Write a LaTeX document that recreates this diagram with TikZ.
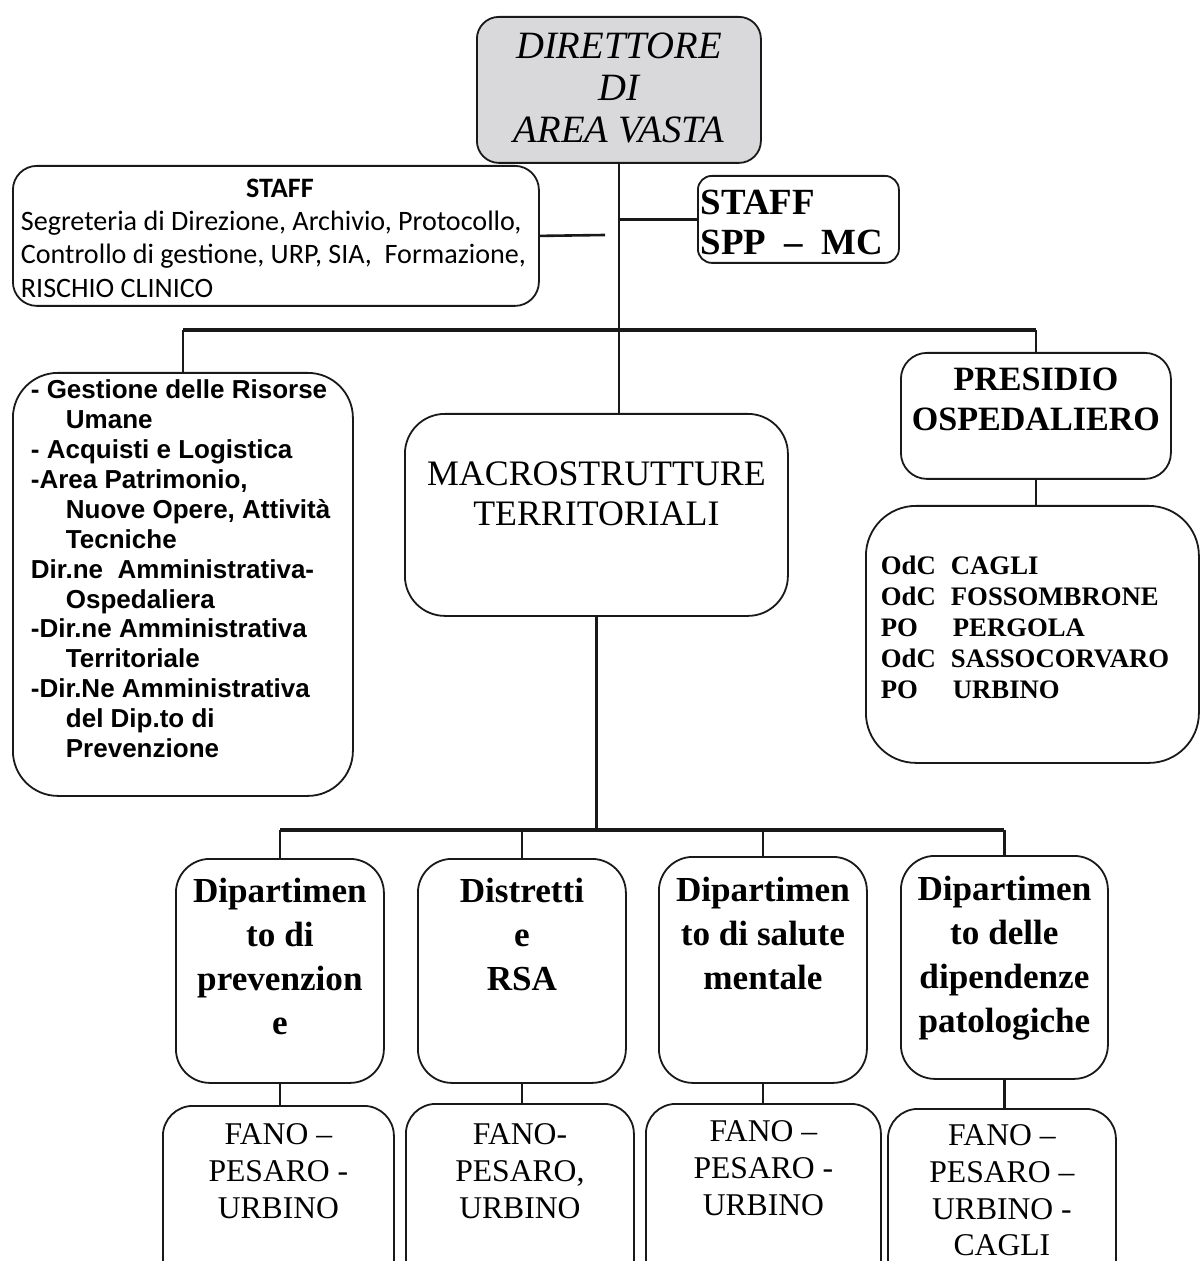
\documentclass[tikz,border=0pt]{standalone}
\usepackage{fontspec}
\setmainfont{Liberation Serif}
\newfontfamily\calibrifont{Carlito}
\newfontfamily\arialfont{Liberation Sans}

\newlength{\du}
\setlength{\du}{0.1mm}
\newcommand{\firstbase}[1]{\rule{0pt}{#1}}

\definecolor{boxlinecolor}{rgb}{0.10, 0.10, 0.10}
\definecolor{headfillcolor}{rgb}{0.85, 0.85, 0.86}

\tikzset{
  orgbox/.style={draw=boxlinecolor, line width=1.8\du, anchor=north west, inner sep=0pt, fill=white},
  thinline/.style={draw=boxlinecolor, line width=2.6\du},
  barline/.style={draw=boxlinecolor, line width=4.6\du},
}

\begin{document}
\begin{tikzpicture}
\pgftransformxscale{1.000000}
\pgftransformyscale{-1.000000}
\useasboundingbox (0\du,0\du) rectangle (1200\du,1261\du);
\fill[white] (0\du,0\du) rectangle (1200\du,1261\du);
\clip (0\du,0\du) rectangle (1200\du,1261\du);

% top level
\node[orgbox, fill=headfillcolor, rounded corners=22\du] (dir) at (476\du,16\du)
  {\parbox[t][146\du][t]{284\du}{\centering\itshape\fontsize{11}{11.95}\selectfont
  \firstbase{42\du}DIRETTORE\\DI\\AREA VASTA}};
\node[orgbox, rounded corners=24\du] (staffl) at (12\du,165\du)
  {\parbox[t][140\du][t]{526\du}{\calibrifont\fontsize{8}{9.4}\selectfont\raggedright\leftskip=8\du
  \firstbase{32\du}\hfill\textbf{STAFF}\hfill\null\\
  Segreteria di Direzione, Archivio, Protocollo,\\
  Controllo di gestione, URP, SIA,\ \ Formazione,\\
  RISCHIO CLINICO}};
\node[orgbox, rounded corners=14\du] (staffr) at (697\du,175\du)
  {\parbox[t][87\du][t]{201\du}{\bfseries\fontsize{10.5}{11.4}\selectfont\raggedright\leftskip=3\du
  \firstbase{39\du}STAFF\\SPP\ \ --\ \ MC}};

% second level
\node[orgbox, rounded corners=45\du] (admin) at (12\du,372\du)
  {\parbox[t][423\du][t]{340\du}{\arialfont\bfseries\fontsize{7.4}{8.5}\selectfont\raggedright\leftskip=18\du
  \firstbase{26\du}- Gestione delle Risorse\\
  \hspace*{35\du}Umane\\
  - Acquisti e Logistica\\
  -Area Patrimonio,\\
  \hspace*{35\du}Nuove Opere, Attività\\
  \hspace*{35\du}Tecniche\\
  Dir.ne\ \ Amministrativa-\\
  \hspace*{35\du}Ospedaliera\\
  -Dir.ne Amministrativa\\
  \hspace*{35\du}Territoriale\\
  -Dir.Ne Amministrativa\\
  \hspace*{35\du}del Dip.to di\\
  \hspace*{35\du}Prevenzione}};
\node[orgbox, rounded corners=40\du] (macro) at (404\du,413\du)
  {\parbox[t][202\du][t]{383\du}{\centering\fontsize{10.2}{11.4}\selectfont
  \firstbase{72\du}MACROSTRUTTURE\\TERRITORIALI}};
\node[orgbox, rounded corners=26\du] (presidio) at (900\du,352\du)
  {\parbox[t][126\du][t]{270\du}{\centering\bfseries\fontsize{9.7}{11.4}\selectfont
  \firstbase{38\du}PRESIDIO\\OSPEDALIERO}};
\node[orgbox, rounded corners=50\du] (odc) at (865\du,505\du)
  {\parbox[t][257\du][t]{333\du}{\bfseries\fontsize{7.6}{8.8}\selectfont\raggedright\leftskip=15\du
  \firstbase{69\du}\makebox[70\du][l]{OdC}CAGLI\\
  \makebox[70\du][l]{OdC}FOSSOMBRONE\\
  \makebox[72\du][l]{PO}PERGOLA\\
  \makebox[70\du][l]{OdC}SASSOCORVARO\\
  \makebox[72\du][l]{PO}URBINO}};

% departments
\node[orgbox, rounded corners=34\du] (dep1) at (175\du,858\du)
  {\parbox[t][224\du][t]{208\du}{\centering\bfseries\fontsize{10}{12.5}\selectfont
  \firstbase{44\du}Dipartimen\\to di\\prevenzion\\e}};
\node[orgbox, rounded corners=34\du] (dep2) at (417\du,858\du)
  {\parbox[t][224\du][t]{208\du}{\centering\bfseries\fontsize{10}{12.5}\selectfont
  \firstbase{44\du}Distretti\\e\\RSA}};
\node[orgbox, rounded corners=34\du] (dep3) at (658\du,856\du)
  {\parbox[t][226\du][t]{208\du}{\centering\bfseries\fontsize{10}{12.5}\selectfont
  \firstbase{45\du}Dipartimen\\to di salute\\mentale}};
\node[orgbox, rounded corners=34\du] (dep4) at (900\du,855\du)
  {\parbox[t][223\du][t]{207\du}{\centering\bfseries\fontsize{10}{12.5}\selectfont
  \firstbase{45\du}Dipartimen\\to delle\\dipendenze\\patologiche}};

% sites
\node[orgbox, rounded corners=30\du] (fano1) at (162\du,1105\du)
  {\parbox[t][190\du][t]{231\du}{\centering\fontsize{9}{10.5}\selectfont
  \firstbase{39\du}FANO --\\PESARO -\\URBINO}};
\node[orgbox, rounded corners=30\du] (fano2) at (405\du,1103\du)
  {\parbox[t][190\du][t]{228\du}{\centering\fontsize{9}{10.5}\selectfont
  \firstbase{41\du}FANO-\\PESARO,\\URBINO}};
\node[orgbox, rounded corners=30\du] (fano3) at (645\du,1103\du)
  {\parbox[t][190\du][t]{235\du}{\centering\fontsize{9}{10.5}\selectfont
  \firstbase{38\du}FANO --\\PESARO -\\URBINO}};
\node[orgbox, rounded corners=30\du] (fano4) at (887\du,1108\du)
  {\parbox[t][190\du][t]{228\du}{\centering\fontsize{9}{10.4}\selectfont
  \firstbase{37\du}FANO --\\PESARO --\\URBINO -\\CAGLI}};

% connectors
\coordinate (staffend) at (605\du,235\du);
\coordinate (tophub) at (620\du,330\du);
\coordinate (lowhub) at (598\du,830\du);
\draw[thinline] (staffl.east) -- (staffend);
\draw[thinline] (dir.south) -- (dir.south |- macro.north);
\draw[thinline] (staffr.west) -- (staffr.west -| dir.south);
\draw[barline] (admin.north |- tophub) -- (presidio.north |- tophub);
\draw[thinline] (admin.north) -- (admin.north |- tophub);
\draw[thinline] (presidio.north) -- (presidio.north |- tophub);
\draw[thinline] (presidio.south) -- (presidio.south |- odc.north);
\draw[thinline] (macro.south) -- (macro.south |- lowhub);
\draw[barline] (dep1.north |- lowhub) -- (dep4.north |- lowhub);
\foreach \i in {1,...,4}{
  \draw[thinline] (dep\i.north) -- (dep\i.north |- lowhub);
  \draw[thinline] (dep\i.south) -- (dep\i.south |- fano\i.north);
}
\end{tikzpicture}
\end{document}
